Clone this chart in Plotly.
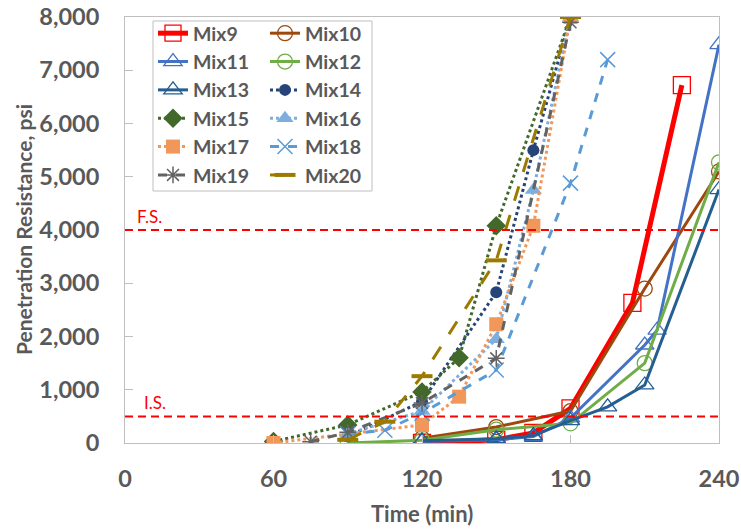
import plotly.graph_objects as go

# ---------------- data ----------------
mix9_t = [120, 150, 165, 180, 205, 225]
mix9_v = [0, 60, 190, 650, 2630, 6720]
mix10_t = [120, 150, 180, 210, 240]
mix10_v = [90, 300, 600, 2900, 5100]
mix11_t = [120, 150, 165, 180, 210, 215, 240]
mix11_v = [30, 60, 120, 470, 1840, 2120, 7480]
mix12_t = [90, 120, 150, 180, 210, 240]
mix12_v = [0, 50, 250, 370, 1500, 5270]
mix13_t = [120, 150, 165, 180, 195, 210, 240]
mix13_v = [40, 80, 140, 420, 680, 1090, 4760]
mix14_t = [90, 120, 150, 165, 180]
mix14_v = [120, 780, 2830, 5500, 8000]
mix15_t = [60, 90, 120, 135, 150, 180]
mix15_v = [30, 340, 960, 1600, 4080, 8000]
mix16_t = [90, 120, 150, 165, 180]
mix16_v = [170, 600, 1950, 4750, 8000]
mix17_t = [60, 120, 135, 150, 165, 180]
mix17_v = [0, 340, 870, 2230, 4080, 8000]
mix18_t = [90, 105, 120, 150, 180, 195]
mix18_v = [170, 240, 560, 1370, 4880, 7200]
mix19_t = [75, 90, 120, 150, 180]
mix19_v = [25, 200, 750, 1590, 7900]
mix20_t = [90, 105, 120, 150, 180]
mix20_v = [60, 400, 1255, 3430, 8000]

names = ["Mix9", "Mix10", "Mix11", "Mix12", "Mix13", "Mix14",
         "Mix15", "Mix16", "Mix17", "Mix18", "Mix19", "Mix20"]

x_ticks = [0, 60, 120, 180, 240]
y_ticks = [0, 1000, 2000, 3000, 4000, 5000, 6000, 7000, 8000]
is_value = 500
fs_value = 4000

# ---------------- styles ----------------
styles = {
    "Mix9":  dict(color="#FF0000", width=5, dash="solid", symbol="square-open", size=17, mlw=1.3),
    "Mix10": dict(color="#9E480E", width=3, dash="solid", symbol="circle-open", size=15, mlw=1.3),
    "Mix11": dict(color="#4472C4", width=3, dash="solid", symbol="triangle-up-open", size=16, mlw=1.3),
    "Mix12": dict(color="#70AD47", width=3, dash="solid", symbol="circle-open", size=15, mlw=1.3),
    "Mix13": dict(color="#255E91", width=3, dash="solid", symbol="triangle-up-open", size=16, mlw=1.3),
    "Mix14": dict(color="#264478", width=3, dash="dot", symbol="circle", size=12, mlw=0),
    "Mix15": dict(color="#43682B", width=3, dash="dot", symbol="diamond", size=15, mlw=0),
    "Mix16": dict(color="#7CAFDD", width=3, dash="dot", symbol="triangle-up", size=15, mlw=0),
    "Mix17": dict(color="#F1975A", width=3, dash="dot", symbol="square", size=14, mlw=0),
    "Mix18": dict(color="#5B9BD5", width=3, dash="dash", symbol="x-thin-open", size=15, mlw=1.5),
    "Mix19": dict(color="#636363", width=3, dash="dash", symbol="asterisk-open", size=14, mlw=1.5),
    "Mix20": dict(color="#9C7A00", width=3, dash="longdash", symbol="line-ew-open", size=15, mlw=4),
}

series = {
    "Mix9": (mix9_t, mix9_v), "Mix10": (mix10_t, mix10_v),
    "Mix11": (mix11_t, mix11_v), "Mix12": (mix12_t, mix12_v),
    "Mix13": (mix13_t, mix13_v), "Mix14": (mix14_t, mix14_v),
    "Mix15": (mix15_t, mix15_v), "Mix16": (mix16_t, mix16_v),
    "Mix17": (mix17_t, mix17_v), "Mix18": (mix18_t, mix18_v),
    "Mix19": (mix19_t, mix19_v), "Mix20": (mix20_t, mix20_v),
}

FONT = "Lato, 'Open Sans', 'Liberation Sans', sans-serif"
GRAY = "#595959"
AXIS = "#BFBFBF"

fig = go.Figure()
for i, n in enumerate(names):
    t, v = series[n]
    s = styles[n]
    fig.add_trace(go.Scatter(
        x=t, y=v, name=n, mode="lines+markers",
        line=dict(color=s["color"], width=s["width"], dash=s["dash"]),
        marker=dict(symbol=s["symbol"], size=s["size"], color=s["color"],
                    line=dict(color=s["color"], width=s["mlw"])),
        legend="legend" if i % 2 == 0 else "legend2",
    ))

W, H = 741, 531
L, R, T, B = 125, 22, 17, 88
pw = W - L - R
ph = H - T - B

def px_x(p):
    return (p - L) / pw

def px_y(p):
    return (H - B - p) / ph

legend_common = dict(
    font=dict(family=FONT, size=19.5, color=GRAY, weight="bold"),
    bgcolor="rgba(0,0,0,0)", borderwidth=0,
    orientation="v", yanchor="top", xanchor="left",
    tracegroupgap=0, itemsizing="trace",
)

fig.update_layout(
    width=W, height=H,
    margin=dict(l=L, r=R, t=T, b=B, autoexpand=False),
    paper_bgcolor="white", plot_bgcolor="white",
    font=dict(family=FONT, color=GRAY),
    showlegend=True,
    legend=dict(x=px_x(153), y=px_y(14), **legend_common),
    legend2=dict(x=px_x(265), y=px_y(14), **legend_common),
    xaxis=dict(
        range=[0, 240], tickvals=x_ticks, ticktext=[str(v) for v in x_ticks],
        showgrid=False, zeroline=False, automargin=False,
        showline=True, linecolor=AXIS, linewidth=1, mirror=True,
        ticks="inside", ticklen=8, tickcolor=AXIS,
        tickfont=dict(family=FONT, size=23.5, color=GRAY, weight="bold"),
        ticklabelstandoff=15,
    ),
    yaxis=dict(
        range=[0, 8000], tickvals=y_ticks, tickformat=",",
        showgrid=False, zeroline=False, automargin=False,
        showline=True, linecolor=AXIS, linewidth=1, mirror=True,
        ticks="inside", ticklen=8, tickcolor=AXIS,
        tickfont=dict(family=FONT, size=23.5, color=GRAY, weight="bold"),
        ticklabelstandoff=20,
    ),
)

# legend frame
fig.add_shape(type="rect", xref="paper", yref="paper",
              x0=px_x(153), x1=px_x(372), y0=px_y(191), y1=px_y(21),
              line=dict(color="#BFBFBF", width=1), fillcolor="rgba(0,0,0,0)",
              layer="above")

# initial / final set reference lines
for val in (is_value, fs_value):
    fig.add_shape(type="line", xref="x", yref="y", x0=0, x1=240, y0=val, y1=val,
                  line=dict(color="#FF0000", width=2, dash="8px,5px"), layer="above")

fig.add_annotation(x=4, y=fs_value, xref="x", yref="y", text="F.S.",
                   showarrow=False, xanchor="left", yanchor="bottom", yshift=1,
                   font=dict(family=FONT, size=17, color="#FF0000"))
fig.add_annotation(x=7, y=is_value, xref="x", yref="y", text="I.S.",
                   showarrow=False, xanchor="left", yanchor="bottom", yshift=1,
                   font=dict(family=FONT, size=17, color="#FF0000"))

# axis titles
fig.add_annotation(x=0.5, y=px_y(513), xref="paper", yref="paper",
                   text="<b>Time (min)</b>", showarrow=False,
                   xanchor="center", yanchor="middle",
                   font=dict(family=FONT, size=22, color=GRAY))
fig.add_annotation(x=px_x(23), y=0.5, xref="paper", yref="paper",
                   text="<b>Penetration Resistance, psi</b>", showarrow=False,
                   textangle=-90, xanchor="center", yanchor="middle",
                   font=dict(family=FONT, size=21, color=GRAY))

fig.write_html(
    "out.html",
    config={"displayModeBar": False},
    post_script="document.body.style.margin='0';document.body.style.overflow='hidden';",
)
